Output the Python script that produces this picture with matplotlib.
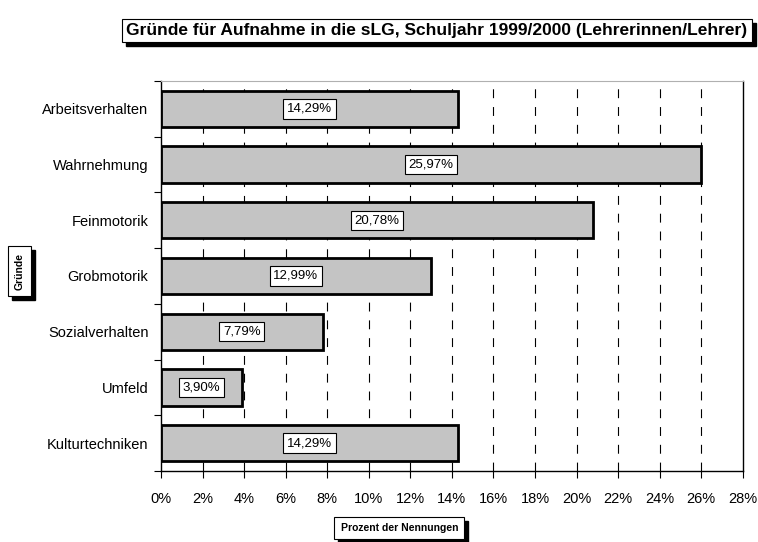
import numpy as np
import matplotlib
matplotlib.use("Agg")
import matplotlib.pyplot as plt
from matplotlib.patches import Rectangle

plt.rcParams['font.family'] = ['Liberation Sans', 'DejaVu Sans']

# ----------------------------
# Data
# ----------------------------
categories = ['Arbeitsverhalten', 'Wahrnehmung', 'Feinmotorik', 'Grobmotorik',
              'Sozialverhalten', 'Umfeld', 'Kulturtechniken']
values = [14.29, 25.97, 20.78, 12.99, 7.79, 3.90, 14.29]
x_ticks = list(range(0, 29, 2))
title = 'Gründe für Aufnahme in die sLG, Schuljahr 1999/2000 (Lehrerinnen/Lehrer)'
x_title = 'Prozent der Nennungen'
y_title = 'Gründe'


def boxed_text(fig, x, y, s, size, rotation=0, pad=0.35):
    """Bold text in a white box (shadow is added after the first draw)"""
    return fig.text(x, y, s, fontsize=size, fontweight='bold', rotation=rotation,
                    ha='center', va='center', zorder=5,
                    bbox=dict(boxstyle=f'square,pad={pad}', fc='white',
                              ec='black', lw=0.8))


def add_shadow(fig, txt, dx=4, dy=4):
    """Black drop shadow behind a boxed text, Excel style"""
    ext = txt.get_bbox_patch().get_window_extent()
    rect = Rectangle((ext.x0 + dx, ext.y0 - dy), ext.width, ext.height,
                     transform=None, fc='black', ec='black', zorder=4)
    fig.patches.append(rect)


fig = plt.figure(figsize=(7.58, 5.42), dpi=100)
ax = fig.add_axes([0.2124, 0.131, 0.7676, 0.7196])

n = len(categories)
pos = np.arange(n)
ax.barh(pos, values, height=0.65, color='#c4c4c4', edgecolor='black',
        linewidth=2, zorder=2)

for p, v in zip(pos, values):
    ax.text(v / 2, p, f'{v:.2f}'.replace('.', ',') + '%', ha='center', va='center',
            fontsize=9.5, zorder=3,
            bbox=dict(boxstyle='square,pad=0.28', fc='white', ec='black', lw=0.8))

ax.set_xlim(0, 28)
ax.set_ylim(n - 0.5, -0.5)

ax.set_xticks(x_ticks)
ax.set_xticklabels([f'{t}%' for t in x_ticks], fontsize=10.5)
ax.tick_params(axis='x', direction='out', length=5, pad=10)

# category labels centred, ticks on the boundaries
ax.set_yticks(np.arange(-0.5, n, 1.0))
ax.set_yticklabels([])
ax.set_yticks(pos, minor=True)
ax.set_yticklabels(categories, minor=True, fontsize=10.5)
ax.tick_params(axis='y', which='major', direction='out', length=5)
ax.tick_params(axis='y', which='minor', length=0, pad=9)

for t in x_ticks[1:-1]:
    ax.axvline(t, color='black', linestyle=(0, (8, 8)), linewidth=0.8, zorder=1)

ax.spines['top'].set_color('#b0b0b0')
for side in ['right', 'left', 'bottom']:
    ax.spines[side].set_linewidth(1)

t1 = boxed_text(fig, 0.5765, 0.944, title, 12.5, pad=0.25)
t2 = boxed_text(fig, 0.527, 0.026, x_title, 7.5, pad=0.6)
t3 = boxed_text(fig, 0.026, 0.5, y_title, 7.5, rotation=90, pad=0.6)

fig.canvas.draw()
for t in (t1, t2, t3):
    add_shadow(fig, t)

fig.savefig('out.png', dpi=100)
